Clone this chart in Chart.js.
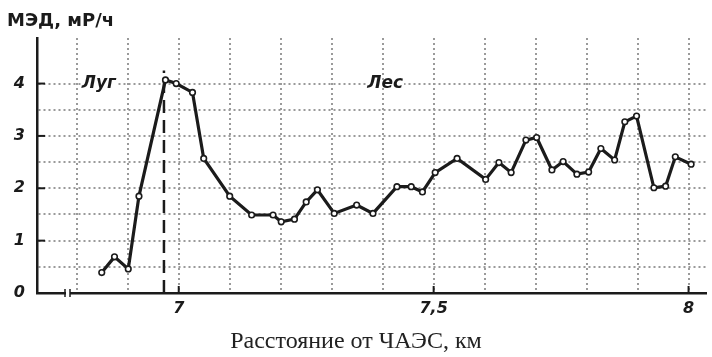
<!DOCTYPE html>
<html>
<head>
<meta charset="utf-8">
<script src="https://cdn.jsdelivr.net/npm/chart.js@4.4.0/dist/chart.umd.min.js"></script>
<style>
  html, body { margin: 0; padding: 0; background: #fff; }
  canvas { display: block; }
</style>
</head>
<body>
<canvas id="chart" width="712" height="357"></canvas>
<script>
// расстояние от ЧАЭС, км
const distKm = [6.849, 6.874, 6.901, 6.922, 6.974, 6.995, 7.027, 7.049, 7.100, 7.143,
    7.185, 7.201, 7.227, 7.250, 7.272, 7.305, 7.349, 7.381, 7.428, 7.456,
    7.478, 7.503, 7.546, 7.602, 7.628, 7.652, 7.681, 7.702, 7.732, 7.754,
    7.781, 7.804, 7.828, 7.855, 7.875, 7.898, 7.932, 7.955, 7.974, 8.005];
// МЭД, мР/ч
const doseRate = [0.39, 0.69, 0.46, 1.85, 4.07, 4.00, 3.83, 2.57, 1.85, 1.49,
    1.49, 1.36, 1.41, 1.74, 1.97, 1.52, 1.68, 1.52, 2.03, 2.03,
    1.93, 2.30, 2.57, 2.17, 2.49, 2.30, 2.92, 2.97, 2.35, 2.51,
    2.27, 2.31, 2.76, 2.54, 3.27, 3.38, 2.01, 2.04, 2.60, 2.46];

// граница луг / лес
const borderKm = 6.971;
const borderTop = 4.25;

const xTicks = [6.8, 6.9, 7.0, 7.1, 7.2, 7.3, 7.4, 7.5, 7.6, 7.7, 7.8, 7.9, 8.0];
const xLabels = { 70: '7', 75: '7,5', 80: '8' };
const yTicks = [0, 0.5, 1, 1.5, 2, 2.5, 3, 3.5, 4];

const zones = [
    { text: 'Луг', x: 6.81, y: 4.0 },
    { text: 'Лес', x: 7.37, y: 4.0 }
];

const INK = '#1b1b1b';
const GRID = '#9a9a9a';

const extras = {
    id: 'extras',
    afterDraw(chart) {
        const c = chart.ctx;
        const xs = chart.scales.x, ys = chart.scales.y;
        const a = chart.chartArea;
        c.save();
        // подпись оси Y
        c.fillStyle = INK;
        c.font = 'bold 18px "DejaVu Sans"';
        c.textBaseline = 'alphabetic';
        c.textAlign = 'left';
        c.fillText('МЭД, мР/ч', 7, 26);

        // подпись оси X (по центру страницы)
        c.fillStyle = '#222';
        c.font = '24px "Liberation Serif"';
        c.textAlign = 'center';
        c.textBaseline = 'middle';
        c.fillText('Расстояние от ЧАЭС, км', chart.width / 2, 342);

        // метки зон
        c.font = 'bold italic 17px "DejaVu Sans"';
        c.textAlign = 'left';
        zones.forEach(z => {
            const x = xs.getPixelForValue(z.x), y = ys.getPixelForValue(z.y);
            const w = c.measureText(z.text).width;
            c.fillStyle = '#fff';
            c.fillRect(x - 1, y - 2, w + 2, 4);
            c.fillStyle = INK;
            c.fillText(z.text, x, y);
        });

        // внутренние засечки
        c.strokeStyle = INK;
        c.lineWidth = 2;
        [1, 2, 3, 4].forEach(v => {
            const y = ys.getPixelForValue(v);
            c.beginPath(); c.moveTo(a.left, y); c.lineTo(a.left + 8, y); c.stroke();
        });
        [7.0, 7.5, 8.0].forEach(v => {
            const x = xs.getPixelForValue(v);
            c.beginPath(); c.moveTo(x, a.bottom); c.lineTo(x, a.bottom - 7); c.stroke();
        });

        // разрыв оси X
        const bx = 68;
        c.fillStyle = '#fff';
        c.fillRect(bx - 2, a.bottom - 3, 4, 6);
        c.lineWidth = 1.5;
        [bx - 3, bx + 2].forEach(x => {
            c.beginPath(); c.moveTo(x, a.bottom - 4); c.lineTo(x, a.bottom + 4); c.stroke();
        });
        c.restore();
    }
};

new Chart(document.getElementById('chart').getContext('2d'), {
    type: 'line',
    data: {
        datasets: [{
            data: distKm.map((x, i) => ({ x: x, y: doseRate[i] })),
            borderColor: INK,
            borderWidth: 3.2,
            pointRadius: 2.8,
            pointBorderWidth: 1.6,
            pointBorderColor: INK,
            pointBackgroundColor: '#fff',
            tension: 0
        }, {
            data: [{ x: borderKm, y: 0 }, { x: borderKm, y: borderTop }],
            borderColor: INK,
            borderWidth: 2.5,
            borderDash: [13, 7],
            pointRadius: 0
        }]
    },
    options: {
        responsive: false,
        animation: false,
        layout: { padding: { top: 38, right: 0, left: 0, bottom: 0 } },
        plugins: { legend: { display: false }, tooltip: { enabled: false }, title: { display: false } },
        scales: {
            x: {
                type: 'linear',
                min: 6.722,
                max: 8.035,
                afterBuildTicks: s => { s.ticks = xTicks.map(v => ({ value: v })); },
                afterFit: s => { s.height = 64; },
                ticks: {
                    autoSkip: false,
                    maxRotation: 0,
                    padding: 6,
                    color: INK,
                    font: { family: 'DejaVu Sans', size: 16, weight: 'bold', style: 'italic' },
                    callback: v => xLabels[Math.round(v * 10)] || ''
                },
                grid: {
                    color: ctx => ctx.tick && ctx.tick.value > 6.75 ? GRID : 'rgba(0,0,0,0)',
                    lineWidth: 2,
                    drawTicks: false
                },
                border: { display: true, color: INK, width: 2.5, dash: [2, 3] }
            },
            y: {
                min: 0,
                max: 4.87,
                afterBuildTicks: s => { s.ticks = yTicks.map(v => ({ value: v })); },
                afterFit: s => { s.width = 37; },
                ticks: {
                    padding: 12,
                    color: INK,
                    font: { family: 'DejaVu Sans', size: 16, weight: 'bold', style: 'italic' },
                    callback: v => Number.isInteger(v) ? String(v) : ''
                },
                grid: {
                    color: ctx => ctx.tick && ctx.tick.value > 0 ? GRID : 'rgba(0,0,0,0)',
                    lineWidth: 2,
                    drawTicks: false
                },
                border: { display: true, color: INK, width: 2.5, dash: [2, 3] }
            }
        }
    },
    plugins: [extras]
});
</script>
</body>
</html>
